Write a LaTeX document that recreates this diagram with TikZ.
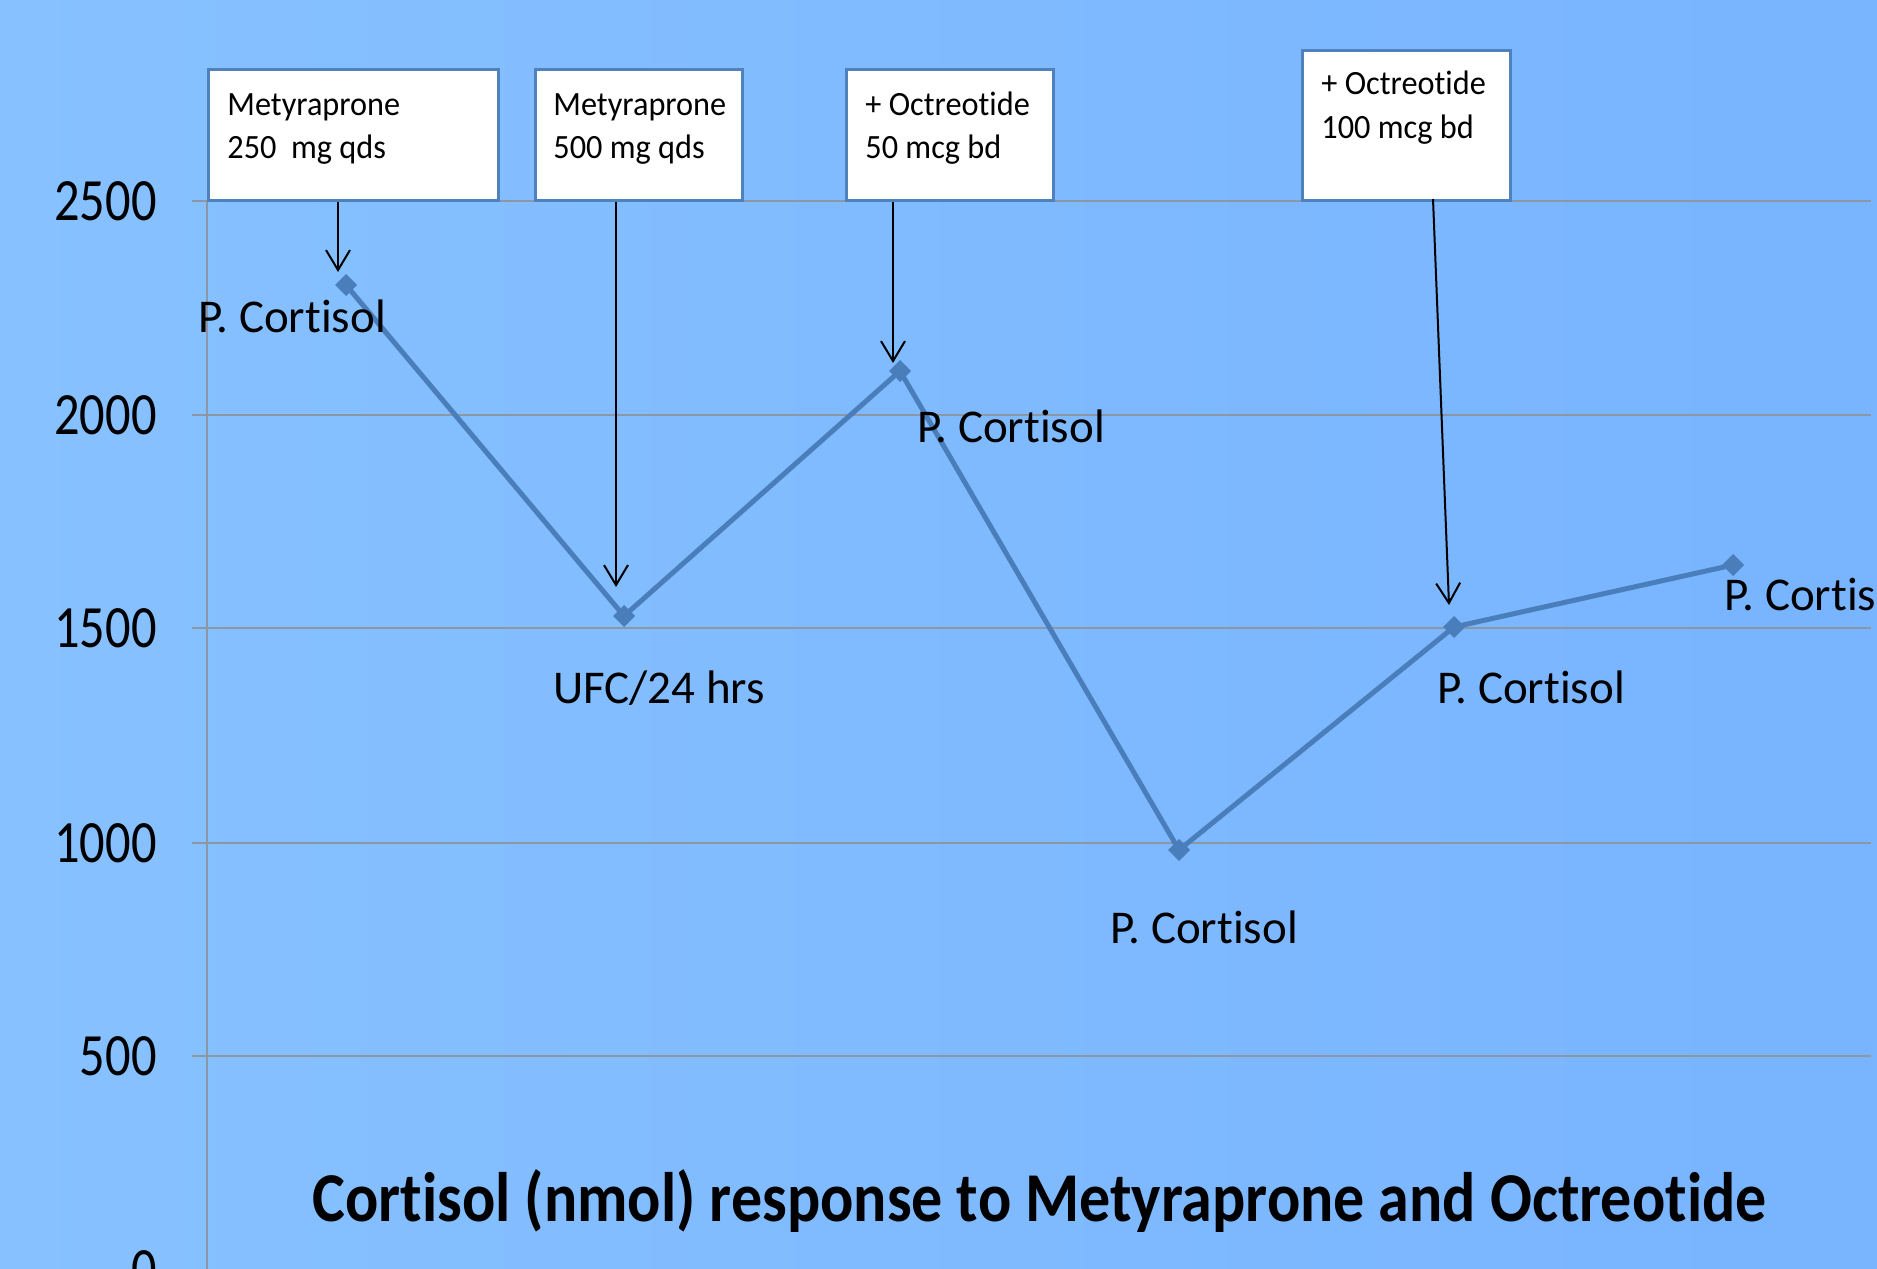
\documentclass[tikz,border=0pt]{standalone}
\usepackage{fontspec}
\setmainfont{Carlito}[Ligatures=NoCommon]
\usetikzlibrary{arrows.meta,calc}
\definecolor{bgL}{RGB}{135,193,255}
\definecolor{bgR}{RGB}{120,180,255}
\definecolor{gridgray}{RGB}{140,150,165}
\definecolor{series}{RGB}{74,126,187}
\definecolor{boxline}{RGB}{79,129,189}
\begin{document}
\begin{tikzpicture}[x=0.5pt,y=-0.5pt,
  gridline/.style={draw=gridgray, line width=1pt},
  seriesline/.style={draw=series, line width=2.5pt, line join=round},
  axislabel/.style={anchor=east, inner sep=0pt, font=\fontsize{30}{36}\selectfont},
  datalabel/.style={anchor=base west, inner sep=0pt, font=\fontsize{23.5}{28}\selectfont},
  dosebox/.style={draw=boxline, line width=1.5pt, fill=white, anchor=north west, inner sep=0pt},
  dosetext/.style={anchor=base west, inner sep=0pt, font=\fontsize{17}{21.5}\selectfont},
  dosearrow/.style={draw=black, line width=1pt, -{Straight Barb[length=10pt,width=12pt]}},
  titletext/.style={anchor=base west, inner sep=0pt, font=\bfseries\fontsize{35}{42}\selectfont},
]
\useasboundingbox (0,0) rectangle (1877,1268);
\clip (0,0) rectangle (1877,1268);
\shade[left color=bgL, right color=bgR] (0,0) rectangle (1877,1268);

% grid lines and axis
\foreach \yy in {201,415,628,843,1056,1270} {
  \draw[gridline] (192,\yy) -- (1871,\yy);
}
\draw[gridline] (207,201) -- (207,1280);

% axis labels
\node[axislabel] (y2500) at (157,201) {\scalebox{0.84}[1]{2500}};
\node[axislabel] (y2000) at (157,415) {\scalebox{0.84}[1]{2000}};
\node[axislabel] (y1500) at (157,628) {\scalebox{0.84}[1]{1500}};
\node[axislabel] (y1000) at (157,843) {\scalebox{0.84}[1]{1000}};
\node[axislabel] (y500) at (157,1056) {\scalebox{0.84}[1]{500}};
\node[axislabel] (y0) at (157,1270) {\scalebox{0.84}[1]{0}};

% data points
\coordinate (p1) at (346,285);
\coordinate (p2) at (624,616);
\coordinate (p3) at (900,371);
\coordinate (p4) at (1179,850);
\coordinate (p5) at (1454,627);
\coordinate (p6) at (1733,565);

\draw[seriesline] (p1) -- (p2) -- (p3) -- (p4) -- (p5) -- (p6);
\foreach \p in {p1,p2,p3,p4,p5,p6} {
  \fill[series] (\p) +(-11,0) -- +(0,-11) -- +(11,0) -- +(0,11) -- cycle;
}

% data labels
\node[datalabel] (l1) at (198,332) {P. Cortisol};
\node[datalabel] (l2) at (553,703) {UFC/24 hrs};
\node[datalabel] (l3) at (917,442) {P. Cortisol};
\node[datalabel] (l4) at (1110,943) {P. Cortisol};
\node[datalabel] (l5) at (1437,703) {P. Cortisol};
\node[datalabel] (l6) at (1724,610) {P. Cortisol};

% dose boxes
\node[dosebox, minimum width=145pt, minimum height=65.5pt] (b1) at (207,68) {};
\node[dosebox, minimum width=103.5pt, minimum height=65.5pt] (b2) at (534,68) {};
\node[dosebox, minimum width=103.5pt, minimum height=65.5pt] (b3) at (845,68) {};
\node[dosebox, minimum width=104pt, minimum height=75pt] (b4) at (1301,49) {};

\node[dosetext] (d1) at ($(b1.north west)+(20,47)$)
  {\scalebox{0.95}[1]{\begin{tabular}[t]{@{}l@{}}Metyraprone\\250\ \ mg qds\end{tabular}}};
\node[dosetext] (d2) at ($(b2.north west)+(19,47)$)
  {\scalebox{0.95}[1]{\begin{tabular}[t]{@{}l@{}}Metyraprone\\500 mg qds\end{tabular}}};
\node[dosetext] (d3) at ($(b3.north west)+(20,47)$)
  {\scalebox{0.95}[1]{\begin{tabular}[t]{@{}l@{}}+ Octreotide\\50 mcg bd\end{tabular}}};
\node[dosetext] (d4) at ($(b4.north west)+(20,46)$)
  {\scalebox{0.95}[1]{\begin{tabular}[t]{@{}l@{}}+ Octreotide\\100 mcg bd\end{tabular}}};

% arrows
\coordinate (t1) at (338,272);
\coordinate (t2) at (616,587);
\coordinate (t3) at (893,363);
\coordinate (t4) at (1449,605);
\coordinate (s4) at (1433,199);
\draw[dosearrow] (b1.south -| t1) -- (t1);
\draw[dosearrow] (b2.south -| t2) -- (t2);
\draw[dosearrow] (b3.south -| t3) -- (t3);
\draw[dosearrow] (s4) -- (t4);

% title
\node[titletext] (title) at (312,1221)
  {\scalebox{0.886}[1]{Cortisol (nmol) response to Metyraprone and Octreotide}};
\end{tikzpicture}
\end{document}
